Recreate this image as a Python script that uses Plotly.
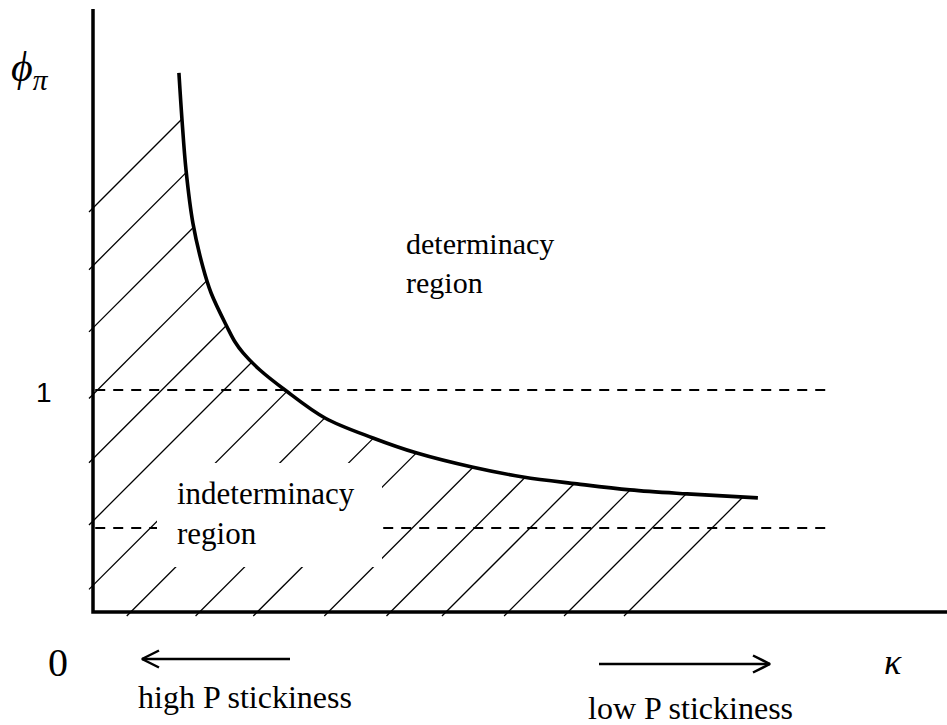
import plotly.graph_objects as go

# ---------------- data ----------------
# boundary curve between determinacy / indeterminacy regions (kappa, phi_pi)
kappa = [0.387, 0.401, 0.419, 0.450, 0.495, 0.532, 0.604, 0.640, 0.676, 0.752,
         0.865, 1.045, 1.261, 1.459, 1.707, 1.937, 2.180, 2.419, 2.676, 2.995]
phi_pi = [2.428, 2.216, 1.991, 1.752, 1.554, 1.437, 1.284, 1.216, 1.167, 1.090,
          1.000, 0.874, 0.784, 0.716, 0.653, 0.608, 0.577, 0.550, 0.532, 0.514]
# 45-degree hatch lines: phi = kappa - offset
hatch_offsets = [-1.82, -1.56, -1.28, -0.98, -0.69, -0.41, -0.12, 0.17, 0.48,
                 0.74, 1.06, 1.34, 1.59, 1.87, 2.14, 2.41]
# dashed reference levels and where they end
ref_levels = [1.0, 0.378]
ref_ends = [3.32, 3.33]
axis_kappa_max = 3.85
axis_phi_max = 2.716

# ---------------- layout helpers (pixel <-> data) ----------------
W, H = 947, 725
OX, OY, UNIT = 93, 612, 222.0


def dx(px):
    return (px - OX) / UNIT


def dy(py):
    return (OY - py) / UNIT


def curve_hit(d):
    for i in range(len(kappa) - 1):
        f0 = phi_pi[i] - (kappa[i] - d)
        f1 = phi_pi[i + 1] - (kappa[i + 1] - d)
        if f0 >= 0 >= f1:
            t = f0 / (f0 - f1) if f0 != f1 else 0
            x = kappa[i] + t * (kappa[i + 1] - kappa[i])
            return x, x - d
    return None


over = 0.018
hx, hy = [], []
for d in hatch_offsets:
    if d < 0:
        x0, y0 = -over, -d - over
    else:
        x0, y0 = d - over, -over
    hit = curve_hit(d)
    if hit is None:
        continue
    hx += [x0, hit[0], None]
    hy += [y0, hit[1], None]

fig = go.Figure()

# hatch
fig.add_trace(go.Scatter(x=hx, y=hy, mode="lines",
                         line=dict(color="black", width=1.3),
                         hoverinfo="skip"))

# dashed reference lines
for lvl, end in zip(ref_levels, ref_ends):
    fig.add_trace(go.Scatter(x=[0.01, end], y=[lvl, lvl], mode="lines",
                             line=dict(color="black", width=2, dash="10px,8px"),
                             hoverinfo="skip"))

# boundary curve
fig.add_trace(go.Scatter(x=kappa, y=phi_pi, mode="lines",
                         line=dict(color="black", width=3.6, shape="spline",
                                   smoothing=1.0),
                         hoverinfo="skip"))

# axes
fig.add_trace(go.Scatter(x=[0, 0, axis_kappa_max], y=[axis_phi_max, 0, 0],
                         mode="lines", line=dict(color="black", width=3.5),
                         hoverinfo="skip"))


# arrows (shaft + open chevron)
def arrow(x_tail, x_tip, y, head=17, half=8.5):
    sgn = 1 if x_tip > x_tail else -1
    xs = [dx(x_tail), dx(x_tip), None,
          dx(x_tip - sgn * head), dx(x_tip), dx(x_tip - sgn * head)]
    ys = [dy(y), dy(y), None, dy(y - half), dy(y), dy(y + half)]
    fig.add_trace(go.Scatter(x=xs, y=ys, mode="lines",
                             line=dict(color="black", width=2.5),
                             hoverinfo="skip"))


arrow(290, 142, 659)
arrow(599, 770, 664)

# white box behind the "indeterminacy region" label
fig.add_shape(type="rect", xref="x", yref="y", layer="above",
              x0=dx(157), x1=dx(382), y0=dy(567), y1=dy(463),
              fillcolor="white", line=dict(width=0))

SERIF = "Liberation Serif, Times New Roman, serif"
SANS = "Liberation Sans, Arial, sans-serif"

ann = [
    dict(text="determinacy<br>region", x=dx(404), y=dy(263), xanchor="left",
         yanchor="middle", align="left", font=dict(family=SERIF, size=30)),
    dict(text="indeterminacy<br>region", x=dx(175), y=dy(513), xanchor="left",
         yanchor="middle", align="left", font=dict(family=SERIF, size=31)),
    dict(text="1", x=dx(44), y=dy(392), xanchor="center", yanchor="middle",
         font=dict(family=SANS, size=28)),
    dict(text="0", x=dx(58), y=dy(662), xanchor="center", yanchor="middle",
         font=dict(family=SERIF, size=40)),
    dict(text="κ", x=dx(893), y=dy(662), xanchor="center", yanchor="middle",
         font=dict(family=SERIF, size=36, style="italic")),
    dict(text="ϕ<sub>π</sub>", x=dx(30), y=dy(70), xanchor="center",
         yanchor="middle", font=dict(family=SERIF, size=42, style="italic")),
    dict(text="high P stickiness", x=dx(136), y=dy(697), xanchor="left",
         yanchor="middle", font=dict(family=SERIF, size=32)),
    dict(text="low P stickiness", x=dx(586), y=dy(708), xanchor="left",
         yanchor="middle", font=dict(family=SERIF, size=32)),
]
for a in ann:
    a.update(xref="x", yref="y", showarrow=False, font_color="black")
    fig.add_annotation(**a)

fig.update_layout(
    width=W, height=H, margin=dict(l=0, r=0, t=0, b=0),
    paper_bgcolor="white", plot_bgcolor="white", showlegend=False,
    xaxis=dict(visible=False, range=[dx(0), dx(W)], fixedrange=True),
    yaxis=dict(visible=False, range=[dy(H), dy(0)], fixedrange=True),
)

fig.write_html(
    "out.html",
    config={"displayModeBar": False},
    post_script="document.body.style.margin='0';"
                "document.body.style.overflow='hidden';",
)
